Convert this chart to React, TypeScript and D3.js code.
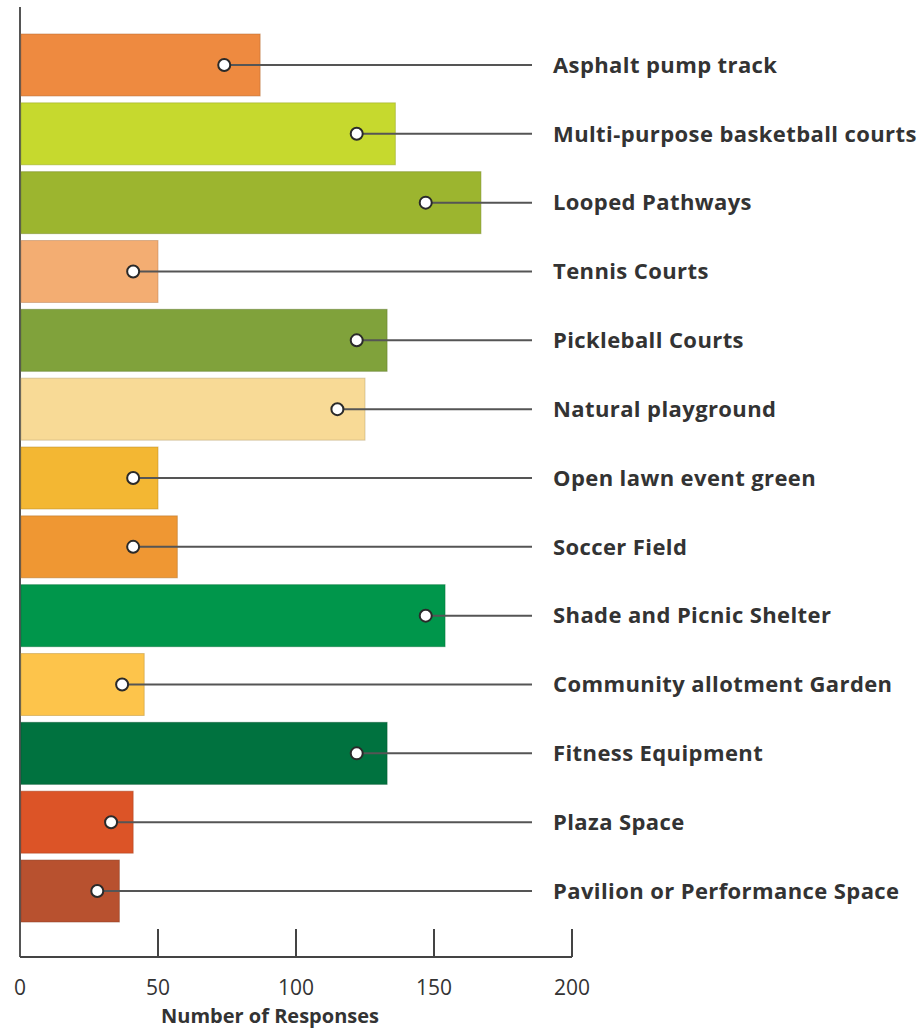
import React from 'react';
import * as d3 from 'd3';

const categories = [
  'Asphalt pump track',
  'Multi-purpose basketball courts',
  'Looped Pathways',
  'Tennis Courts',
  'Pickleball Courts',
  'Natural playground',
  'Open lawn event green',
  'Soccer Field',
  'Shade and Picnic Shelter',
  'Community allotment Garden',
  'Fitness Equipment',
  'Plaza Space',
  'Pavilion or Performance Space',
];

// bar length
const responses = [87, 136, 167, 50, 133, 125, 50, 57, 154, 45, 133, 41, 36];
// white marker
const markerValues = [74, 122, 147, 41, 122, 115, 41, 41, 147, 37, 122, 33, 28];

const barColors = [
  '#ee8a40', '#c6d92e', '#9cb52f', '#f3ad72', '#80a23b', '#f8da96', '#f3b733',
  '#ef9733', '#00964b', '#fdc44b', '#00723f', '#dc5427', '#b8512f',
];

const xTicks = [0, 50, 100, 150, 200];

const W = 923;
const H = 1032;

export default function App() {
  const x = d3.scaleLinear().domain([0, 200]).range([20, 572]);
  const y = d3.scaleBand<string>().domain(categories).range([34, 922]).paddingInner(0.1).paddingOuter(0);
  const baseY = 957;
  const lineEnd = 532;
  const labelX = 553;
  const font = '"Open Sans", "Noto Sans", sans-serif';

  return (
    <svg width={W} height={H} style={{ position: 'absolute', left: 0, top: 0, background: '#fff' }}>
      {/* vertical axis */}
      <line x1={x(0)} x2={x(0)} y1={7} y2={baseY} stroke="#555" strokeWidth={2} />

      {categories.map((c, i) => {
        const y0 = y(c)!;
        const cy = y0 + y.bandwidth() / 2;
        return (
          <g key={c}>
            <rect
              x={x(0) + 1}
              y={y0}
              width={x(responses[i]) - x(0) - 1}
              height={y.bandwidth()}
              fill={barColors[i]}
              stroke={d3.rgb(barColors[i]).darker(0.8).toString()}
              strokeOpacity={0.5}
              strokeWidth={1}
            />
            <line x1={x(markerValues[i])} x2={lineEnd} y1={cy} y2={cy} stroke="#555" strokeWidth={2} />
            <circle cx={x(markerValues[i])} cy={cy} r={6} fill="#fff" stroke="#2a2a2a" strokeWidth={2} />
            <text
              x={labelX}
              y={cy}
              dy="0.35em"
              fontFamily={font}
              fontWeight="bold"
              fontSize={22}
              letterSpacing={0.4}
              fill="#333"
            >
              {c}
            </text>
          </g>
        );
      })}

      {/* x axis */}
      <line x1={x(0)} x2={x(200)} y1={baseY} y2={baseY} stroke="#444" strokeWidth={2} />
      {xTicks.map((t) => (
        <g key={t}>
          {t > 0 && <line x1={x(t)} x2={x(t)} y1={929} y2={baseY} stroke="#444" strokeWidth={2} />}
          <text x={x(t)} y={995} textAnchor="middle" fontFamily={font} fontSize={21} fill="#333">
            {t}
          </text>
        </g>
      ))}
      <text x={270} y={1023} textAnchor="middle" fontFamily={font} fontWeight="bold" fontSize={20} fill="#333">
        Number of Responses
      </text>
    </svg>
  );
}
